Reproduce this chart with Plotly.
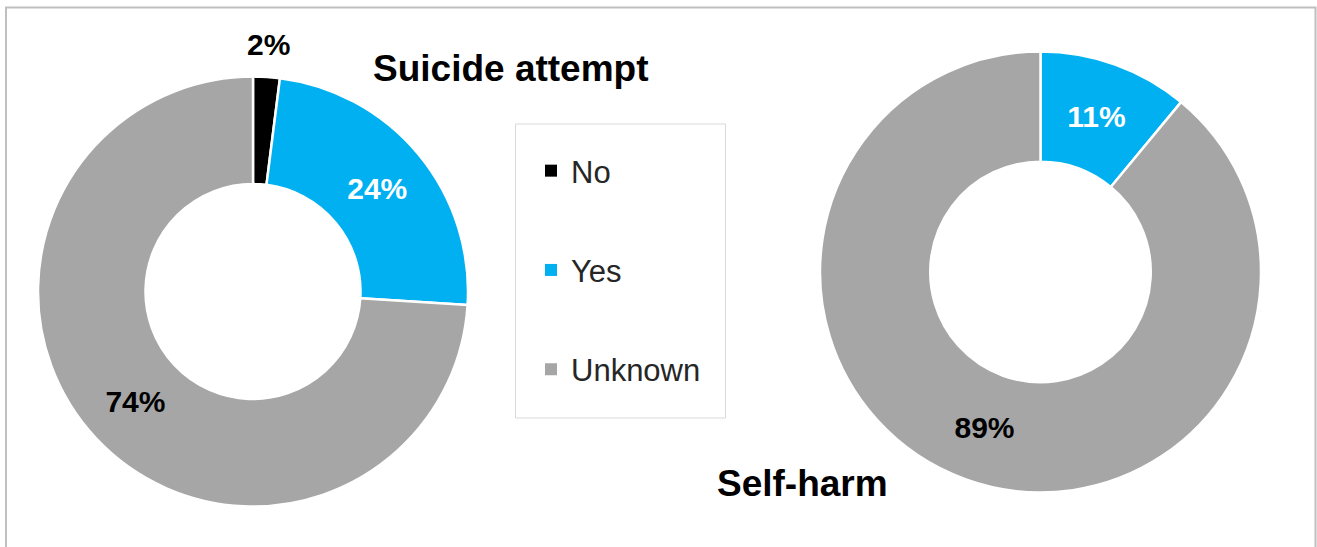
import math
import plotly.graph_objects as go

W, H = 1317, 547

categories = ["No", "Yes", "Unknown"]
suicide_attempt = [2, 24, 74]
self_harm = [0, 11, 89]
colors = ["#000000", "#00B0F0", "#A6A6A6"]

FONT = "Arial, Liberation Sans, sans-serif"

# Pie geometry in pixels (centre and outer radius)
LEFT_CX, LEFT_CY, LEFT_R = 253, 291.5, 215
RIGHT_CX, RIGHT_CY, RIGHT_R = 1040.5, 272, 220.5


def px_x(v):
    return v / W


def px_y(v):
    return 1 - v / H


def domain_for(cx, cy, r):
    return dict(x=[px_x(cx - r), px_x(cx + r)], y=[px_y(cy + r), px_y(cy - r)])


def pct_text(values, skip=()):
    return ["" if (not v or i in skip) else f"{v}%" for i, v in enumerate(values)]


fig = go.Figure()

# Left donut: suicide attempt (the thin "No" slice is labelled outside the ring)
fig.add_trace(go.Pie(
    labels=categories,
    values=suicide_attempt,
    text=pct_text(suicide_attempt, skip=(0,)),
    textinfo="text",
    textposition="inside",
    insidetextorientation="horizontal",
    textfont=dict(family=FONT, size=30, weight="bold",
                  color=["#000000", "#FFFFFF", "#000000"]),
    marker=dict(colors=colors, line=dict(color="#FFFFFF", width=2.5)),
    hole=0.5,
    sort=False,
    direction="clockwise",
    rotation=0,
    showlegend=False,
    hoverinfo="label+percent",
    domain=domain_for(LEFT_CX, LEFT_CY, LEFT_R),
))

# Right donut: self-harm
fig.add_trace(go.Pie(
    labels=categories,
    values=self_harm,
    text=pct_text(self_harm),
    textinfo="text",
    textposition="inside",
    insidetextorientation="horizontal",
    textfont=dict(family=FONT, size=30, weight="bold",
                  color=["#000000", "#FFFFFF", "#000000"]),
    marker=dict(colors=colors, line=dict(color="#FFFFFF", width=2.5)),
    hole=0.5,
    sort=False,
    direction="clockwise",
    rotation=0,
    showlegend=False,
    hoverinfo="label+percent",
    domain=domain_for(RIGHT_CX, RIGHT_CY, RIGHT_R),
))

# Legend entries (one group per category so the entries can be spaced apart)
for name, col in zip(categories, colors):
    fig.add_trace(go.Scatter(
        x=[None], y=[None], mode="markers", name=name, legendgroup=name,
        marker=dict(symbol="square", size=12, color=col),
        hoverinfo="skip",
    ))

# Outside label for the "No" slice, placed along its mid-angle
no_mid = (suicide_attempt[0] / 2) / sum(suicide_attempt) * 2 * math.pi
label_r = LEFT_R + 32
no_x = LEFT_CX + label_r * math.sin(no_mid)
no_y = LEFT_CY - label_r * math.cos(no_mid)

fig.update_layout(
    width=W, height=H,
    margin=dict(l=0, r=0, t=0, b=0),
    paper_bgcolor="#FFFFFF",
    plot_bgcolor="rgba(0,0,0,0)",
    xaxis=dict(visible=False),
    yaxis=dict(visible=False),
    showlegend=True,
    legend=dict(
        x=px_x(531), y=px_y(144), xanchor="left", yanchor="top",
        bgcolor="rgba(0,0,0,0)", borderwidth=0,
        font=dict(family=FONT, size=31, color="#262626"),
        tracegroupgap=56, traceorder="grouped",
    ),
    shapes=[
        dict(type="rect", xref="paper", yref="paper",
             x0=px_x(6), x1=px_x(1315.5), y0=-0.05, y1=px_y(7.5),
             line=dict(color="#BFBFBF", width=2), fillcolor="rgba(0,0,0,0)",
             layer="below"),
        dict(type="rect", xref="paper", yref="paper",
             x0=px_x(515.5), x1=px_x(725.5), y0=px_y(418), y1=px_y(124),
             line=dict(color="#D9D9D9", width=1), fillcolor="rgba(0,0,0,0)",
             layer="below"),
    ],
    annotations=[
        dict(text=f"{suicide_attempt[0]}%", x=px_x(no_x), y=px_y(no_y),
             xref="paper", yref="paper", xanchor="center", yanchor="middle",
             showarrow=False,
             font=dict(family=FONT, size=30, weight="bold", color="#000000")),
        dict(text="Suicide attempt", x=px_x(511), y=px_y(68),
             xref="paper", yref="paper", xanchor="center", yanchor="middle",
             showarrow=False,
             font=dict(family=FONT, size=37, weight="bold", color="#000000")),
        dict(text="Self-harm", x=px_x(802), y=px_y(483),
             xref="paper", yref="paper", xanchor="center", yanchor="middle",
             showarrow=False,
             font=dict(family=FONT, size=37, weight="bold", color="#000000")),
    ],
)

fig.write_html("out.html")
